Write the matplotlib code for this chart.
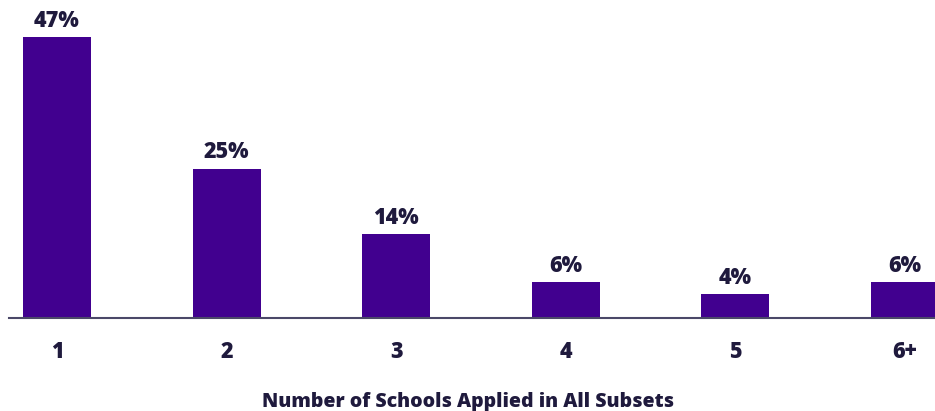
import matplotlib.pyplot as plt

# Data
categories = ['1', '2', '3', '4', '5', '6+']
shares = [47, 25, 14, 6, 4, 6]

bar_color = '#41008F'
text_color = '#1F1A3D'

plt.rcParams['font.family'] = ['Open Sans', 'DejaVu Sans']

fig = plt.figure(figsize=(9.35, 4.11), dpi=100)
ax = fig.add_axes([9 / 935, 93 / 411, 1 - 9 / 935, 318 / 411])

x = range(len(categories))
bars = ax.bar(x, shares, width=0.4, color=bar_color, zorder=2)

# value labels above each bar
for b, v in zip(bars, shares):
    ax.annotate(f'{v}%', (b.get_x() + b.get_width() / 2, b.get_height()),
                xytext=(0, 3), textcoords='offset points',
                ha='center', va='bottom', fontsize=15.5, fontweight=800,
                color=text_color)

ax.set_xlim(-0.283, 5.177)
ax.set_ylim(0, 53.2)
ax.set_xticks(list(x))
ax.set_xticklabels(categories, fontsize=15.5, fontweight=800, color=text_color)
ax.tick_params(axis='x', length=0, pad=16)
ax.set_yticks([])

for side in ['top', 'right', 'left']:
    ax.spines[side].set_visible(False)
ax.spines['bottom'].set_color('#4B4868')
ax.spines['bottom'].set_linewidth(1.5)

fig.text(0.5, 9 / 411, 'Number of Schools Applied in All Subsets', ha='center',
         va='center', fontsize=14, fontweight=800, color=text_color)

fig.savefig('out.png', dpi=100)
